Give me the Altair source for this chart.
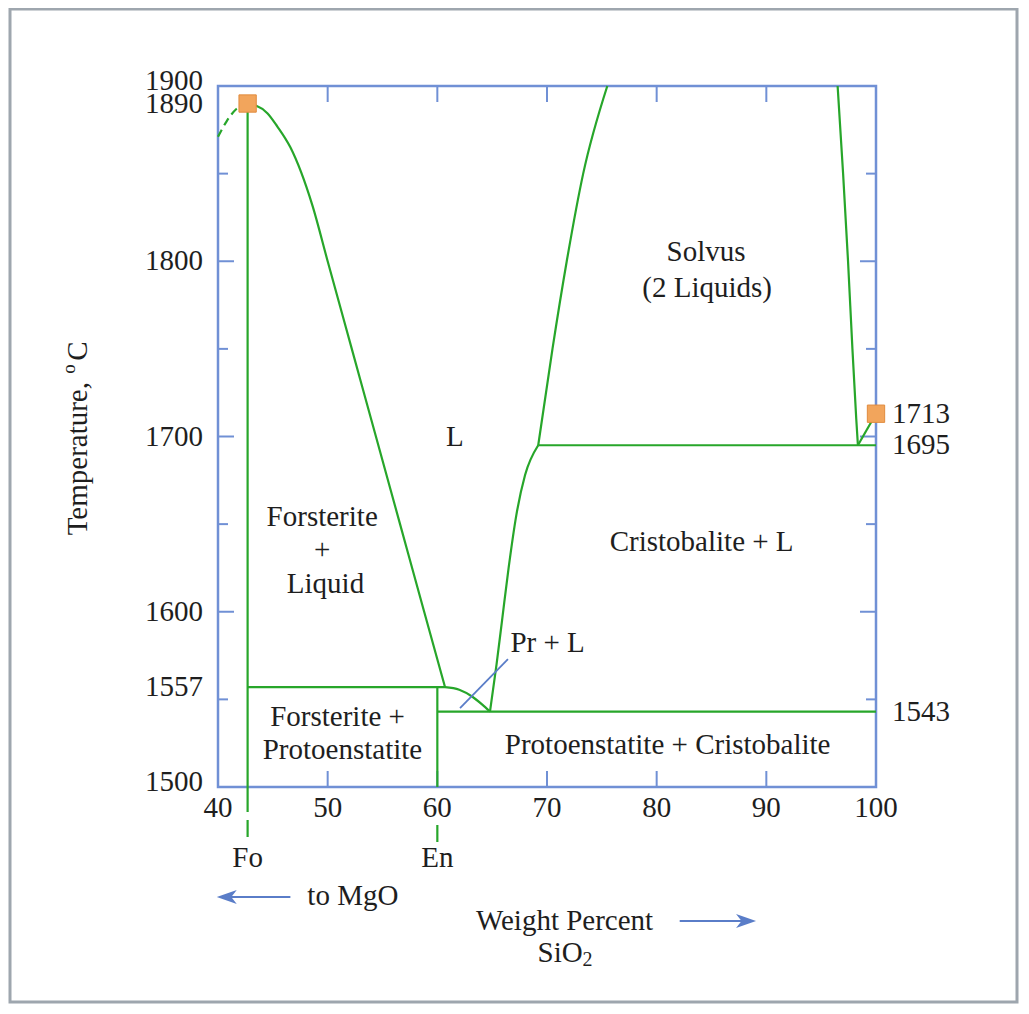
import altair as alt
import pandas as pd

# ---------------- data (wt% SiO2, temperature in deg C) ----------------
FO_X = 42.7
EN_X = 60.0

fo_liq_x = [42.7, 43.4, 44.5, 45.4, 46.6, 48.6, 50.0, 52.2, 54.4, 56.6, 58.8, 60.7]
fo_liq_t = [1890, 1889, 1884.5, 1877, 1865, 1832, 1800, 1750, 1700, 1650, 1600, 1557]
meta_x = [40.0, 40.8, 41.7, 42.7]
meta_t = [1871, 1880, 1887, 1890]
peri_x = [60.7, 62.0, 63.2, 64.1, 64.8]
peri_t = [1557, 1555.5, 1551.5, 1547, 1543]
pr_liq_x = [64.8, 65.4, 65.9, 66.5, 67.2, 68.0, 69.2]
pr_liq_t = [1543, 1570, 1595, 1625, 1655, 1678, 1695]
cr_liq_x = [69.2, 70.5, 71.8, 73.3, 75.5]
cr_liq_t = [1695, 1750, 1800, 1850, 1900]
solvus_x = [96.5, 97.0, 97.45, 97.85, 98.2, 98.35]
solvus_t = [1900, 1850, 1800, 1750, 1710, 1695]
silica_x = [98.35, 100.0]
silica_t = [1695, 1713]

iso_t = [1557, 1543, 1695]
iso_x1 = [FO_X, EN_X, 69.2]
iso_x2 = [60.7, 100.0, 100.0]

vert_x = [FO_X, EN_X]
vert_t1 = [1500, 1500]
vert_t2 = [1890, 1557]

melt_x = [FO_X, 100.0]
melt_t = [1890, 1713]

pointer_x = [62.07, 66.44]
pointer_t = [1545, 1573]

region_text = ["Solvus", "(2 Liquids)", "L", "Forsterite", "+", "Liquid",
               "Cristobalite + L", "Pr + L", "Forsterite +", "Protoenstatite",
               "Protoenstatite + Cristobalite"]
region_x = [84.5, 84.6, 61.6, 49.5, 49.5, 49.8, 84.1, 70.05, 50.9, 51.35, 81.0]
region_t = [1805, 1785, 1700, 1654, 1635, 1616, 1640, 1582, 1540, 1521, 1524]

x_tick_labels = [40, 50, 60, 70, 80, 90, 100]
x_major_ticks = [50, 60, 70, 80, 90]
y_left_labels = [1557, 1600, 1700, 1800, 1890]
y_left_nudged = [1500, 1900]
y_right_labels = [1713, 1695, 1543]
y_major_ticks = [1600, 1700, 1800]
y_minor_ticks = [1550, 1650, 1750, 1850]

compound_names = ["Fo", "En"]
compound_x = [FO_X, EN_X]

# ---------------- styling ----------------
W, H = 658, 701
GREEN = "#27a62a"
BLUE = "#7090d5"
ARROW = "#5a7dc8"
FONT = "Liberation Serif"
FS = 29
TXT = "#1e1e1e"

xs = alt.Scale(domain=[40, 100], nice=False, zero=False)
ys = alt.Scale(domain=[1500, 1900], nice=False, zero=False)


def X(f="x"):
    return alt.X(f + ":Q", scale=xs, axis=None)


def Y(f="t"):
    return alt.Y(f + ":Q", scale=ys, axis=None)


def curve(xv, tv, dash=None, color=GREEN, width=2.2, interp="monotone"):
    df = pd.DataFrame({"x": xv, "t": tv, "o": list(range(len(xv)))})
    kw = dict(color=color, strokeWidth=width, interpolate=interp)
    if dash:
        kw["strokeDash"] = dash
    return alt.Chart(df).mark_line(**kw).encode(x=X(), y=Y(), order="o:Q")


layers = []

# outer grey border
one = pd.DataFrame({"a": [0]})
layers.append(
    alt.Chart(one).mark_rect(fill=None, stroke="#9ea6ae", strokeWidth=3).encode(
        x=alt.value(-208), x2=alt.value(W + 141), y=alt.value(-77), y2=alt.value(H + 215)
    )
)

# inward ticks
tx = pd.DataFrame({"x": x_major_ticks})
layers.append(alt.Chart(tx).mark_rule(color=BLUE, strokeWidth=2).encode(
    x=X(), y=alt.value(H), y2=alt.value(H - 16)))
layers.append(alt.Chart(tx).mark_rule(color=BLUE, strokeWidth=2).encode(
    x=X(), y=alt.value(0), y2=alt.value(16)))
tyM = pd.DataFrame({"t": y_major_ticks})
tym = pd.DataFrame({"t": y_minor_ticks})
for d, L in ((tyM, 16), (tym, 10)):
    layers.append(alt.Chart(d).mark_rule(color=BLUE, strokeWidth=2).encode(
        y=Y(), x=alt.value(0), x2=alt.value(L)))
    layers.append(alt.Chart(d).mark_rule(color=BLUE, strokeWidth=2).encode(
        y=Y(), x=alt.value(W), x2=alt.value(W - L)))

# phase boundaries
layers.append(curve(meta_x, meta_t, dash=[8, 5]))
layers.append(curve(fo_liq_x, fo_liq_t))
layers.append(curve(peri_x, peri_t))
layers.append(curve(pr_liq_x, pr_liq_t))
layers.append(curve(cr_liq_x, cr_liq_t))
layers.append(curve(solvus_x, solvus_t))
layers.append(curve(silica_x, silica_t, interp="linear"))

iso = pd.DataFrame({"x": iso_x1, "x2": iso_x2, "t": iso_t})
layers.append(alt.Chart(iso).mark_rule(color=GREEN, strokeWidth=2.2).encode(
    x=X(), x2="x2:Q", y=Y()))
vert = pd.DataFrame({"x": vert_x, "t": vert_t1, "t2": vert_t2})
layers.append(alt.Chart(vert).mark_rule(color=GREEN, strokeWidth=2.2).encode(
    x=X(), y=Y(), y2="t2:Q"))

# composition lines continued below the axis
fo_df = pd.DataFrame({"x": [FO_X]})
en_df = pd.DataFrame({"x": [EN_X]})
layers.append(alt.Chart(fo_df).mark_rule(color=GREEN, strokeWidth=2.2, strokeDash=[25, 8]).encode(
    x=X(), y=alt.value(H), y2=alt.value(H + 50)))
layers.append(alt.Chart(en_df).mark_rule(color=GREEN, strokeWidth=2.2).encode(
    x=X(), y=alt.value(H + 38), y2=alt.value(H + 55)))

# pointer line for Pr + L
layers.append(curve(pointer_x, pointer_t, color=ARROW, width=1.8, interp="linear"))

# melting points
melt = pd.DataFrame({"x": melt_x, "t": melt_t})
layers.append(alt.Chart(melt).mark_square(size=300, filled=True, fill="#f2a55c",
                                          stroke="#e08b3e", strokeWidth=1, opacity=1).encode(
    x=X(), y=Y()))

# region labels
reg = pd.DataFrame({"label": region_text, "x": region_x, "t": region_t})
layers.append(alt.Chart(reg).mark_text(font=FONT, fontSize=FS, color=TXT, baseline="middle").encode(
    x=X(), y=Y(), text="label:N"))

# x tick labels
xl = pd.DataFrame({"x": x_tick_labels})
layers.append(alt.Chart(xl).mark_text(font=FONT, fontSize=FS, color=TXT, baseline="middle").encode(
    x=X(), y=alt.value(H + 21), text="x:Q"))

# left y labels
yl = pd.DataFrame({"t": y_left_labels})
layers.append(alt.Chart(yl).mark_text(font=FONT, fontSize=FS, color=TXT, baseline="middle",
                                      align="right").encode(
    y=Y(), x=alt.value(-15), text="t:Q"))
yl2 = pd.DataFrame({"t": y_left_nudged})
layers.append(alt.Chart(yl2).mark_text(font=FONT, fontSize=FS, color=TXT, baseline="middle",
                                       align="right", dy=-5).encode(
    y=Y(), x=alt.value(-15), text="t:Q"))
# right y labels
yr = pd.DataFrame({"t": y_right_labels})
layers.append(alt.Chart(yr).mark_text(font=FONT, fontSize=FS, color=TXT, baseline="middle",
                                      align="left").encode(
    y=Y(), x=alt.value(W + 16), text="t:Q"))

# compound labels
cp = pd.DataFrame({"label": compound_names, "x": compound_x})
layers.append(alt.Chart(cp).mark_text(font=FONT, fontSize=FS, color=TXT, baseline="middle").encode(
    x=X(), y=alt.value(H + 71), text="label:N"))

# y title: Temperature, oC
layers.append(alt.Chart(one).mark_text(font=FONT, fontSize=FS, color=TXT, baseline="middle",
                                       align="right", angle=270, text="Temperature,").encode(
    x=alt.value(-140), y=alt.value(296)))
layers.append(alt.Chart(one).mark_text(font=FONT, fontSize=19, color=TXT, baseline="middle",
                                       align="center", angle=270, text="o").encode(
    x=alt.value(-149), y=alt.value(283)))
layers.append(alt.Chart(one).mark_text(font=FONT, fontSize=FS, color=TXT, baseline="middle",
                                       align="center", angle=270, text="C").encode(
    x=alt.value(-140), y=alt.value(265)))

# bottom annotations with arrows
txt_bottom = pd.DataFrame({"label": ["to MgO", "Weight Percent", "SiO"],
                           "x": [52.3, 71.6, 71.2]})
pix_y = [H + 109, H + 134, H + 166]
for i in range(3):
    layers.append(alt.Chart(txt_bottom.iloc[[i]]).mark_text(
        font=FONT, fontSize=FS, color=TXT, baseline="middle").encode(
        x=X(), y=alt.value(pix_y[i]), text="label:N"))
sub = pd.DataFrame({"label": ["2"], "x": [73.7]})
layers.append(alt.Chart(sub).mark_text(font=FONT, fontSize=20, color=TXT, baseline="middle").encode(
    x=X(), y=alt.value(H + 173), text="label:N"))

shafts = pd.DataFrame({"x": [40.6, 82.1], "x2": [46.6, 88.4]})
layers.append(alt.Chart(shafts.iloc[[0]]).mark_rule(color=ARROW, strokeWidth=2).encode(
    x=X(), x2="x2:Q", y=alt.value(H + 110)))
layers.append(alt.Chart(shafts.iloc[[1]]).mark_rule(color=ARROW, strokeWidth=2).encode(
    x=X(), x2="x2:Q", y=alt.value(H + 134)))
heads = pd.DataFrame({"x": [40.8, 88.15]})
left_head = "M-1,0 L1,-0.7 L0.45,0 L1,0.7 Z"
right_head = "M1,0 L-1,-0.7 L-0.45,0 L-1,0.7 Z"
layers.append(alt.Chart(heads.iloc[[0]]).mark_point(shape=left_head, size=400, filled=True,
                                                    color=ARROW, opacity=1).encode(
    x=X(), y=alt.value(H + 110)))
layers.append(alt.Chart(heads.iloc[[1]]).mark_point(shape=right_head, size=400, filled=True,
                                                    color=ARROW, opacity=1).encode(
    x=X(), y=alt.value(H + 134)))

chart = alt.layer(*layers).properties(
    width=W, height=H,
    padding={"left": 210, "top": 78, "right": 143, "bottom": 217},
    autosize=alt.AutoSizeParams(type="none"),
    background="white",
).configure_view(stroke=BLUE, strokeWidth=2.5)

chart.save("out.html", embed_options={"renderer": "svg", "actions": False})
